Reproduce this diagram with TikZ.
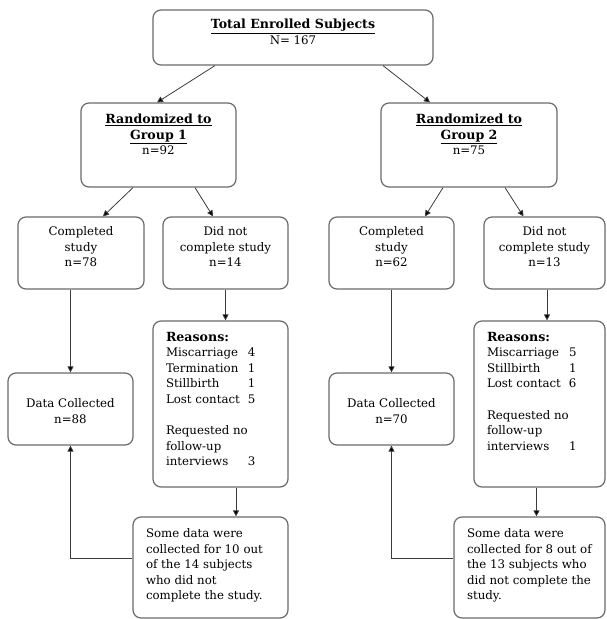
\documentclass[tikz,border=0pt]{standalone}
\usepackage{fontspec}
\setmainfont{DejaVu Serif}
\usetikzlibrary{arrows.meta,calc}

\definecolor{boxgray}{HTML}{6A6A6A}
\definecolor{arrowgray}{HTML}{3C3C3C}

\tikzset{
  flowbox/.style={draw=boxgray, line width=1.2pt, rounded corners=8pt, inner sep=0pt,
    font=\fontsize{11.8}{15.6}\selectfont},
  flowarrow/.style={draw=arrowgray, line width=0.8pt, -{Triangle[length=6pt,width=6pt,fill=black]}},
}
% width, height, top gap, text
\newcommand{\boxtext}[4]{\parbox[c][#2][t]{#1}{\vspace*{#3}\centering #4}}
\newcommand{\boxtextl}[4]{\parbox[c][#2][t]{#1}{\vspace*{#3}\raggedright\leftskip=13pt #4}}
\newcommand{\reason}[1]{\makebox[82pt][l]{#1}}
\newcommand{\headline}[1]{{\fontsize{12.6}{16.5}\selectfont\bfseries\underline{#1}}}

\begin{document}
\begin{tikzpicture}[x=1pt,y=-1pt]
            \useasboundingbox (0,0) rectangle (606,619);
            % top
            \node[flowbox] (total) at (293,37.5) {\boxtext{280pt}{55pt}{9pt}{\headline{Total Enrolled Subjects}\\N= 167}};
            % groups
            \node[flowbox] (grpone) at (158.5,145) {\boxtext{155pt}{84pt}{11pt}{\headline{Randomized to}\\\headline{Group 1}\\n=92}};
            \node[flowbox] (grptwo) at (469,145) {\boxtext{176pt}{84pt}{11pt}{\headline{Randomized to}\\\headline{Group 2}\\n=75}};
            % completed or not
            \node[flowbox] (compone) at (81,253) {\boxtext{126pt}{72pt}{9.5pt}{Completed\\study\\n=78}};
            \node[flowbox] (notone) at (225.5,253) {\boxtext{125pt}{72pt}{9.5pt}{Did not\\complete study\\n=14}};
            \node[flowbox] (comptwo) at (391.5,253) {\boxtext{125pt}{72pt}{9.5pt}{Completed\\study\\n=62}};
            \node[flowbox] (nottwo) at (544.5,253) {\boxtext{121pt}{72pt}{9.5pt}{Did not\\complete study\\n=13}};
            % data collected
            \node[flowbox] (dataone) at (70.5,409) {\boxtext{125pt}{72pt}{25.5pt}{Data Collected\\n=88}};
            \node[flowbox] (datatwo) at (391.5,409) {\boxtext{125pt}{72pt}{25.5pt}{Data Collected\\n=70}};
            % reasons
            \node[flowbox] (whyone) at (220.5,404) {\boxtextl{135pt}{166pt}{11pt}{{\fontsize{12.6}{15.6}\selectfont\bfseries Reasons:}\\
                \reason{Miscarriage}4\\\reason{Termination}1\\\reason{Stillbirth}1\\\reason{Lost contact}5\\[15.6pt]
                Requested no\\follow-up\\\reason{interviews}3}};
            \node[flowbox] (whytwo) at (539.5,404) {\boxtextl{131pt}{166pt}{11pt}{{\fontsize{12.6}{15.6}\selectfont\bfseries Reasons:}\\
                \reason{Miscarriage}5\\\reason{Stillbirth}1\\\reason{Lost contact}6\\[15.6pt]
                Requested no\\follow-up\\\reason{interviews}1}};
            % some data
            \node[flowbox] (someone) at (210.5,567.5) {\boxtextl{155pt}{101pt}{11.5pt}{Some data were\\collected for 10 out\\of the 14 subjects\\who did not\\complete the study.}};
            \node[flowbox] (sometwo) at (529.5,567.5) {\boxtextl{151pt}{101pt}{11.5pt}{Some data were\\collected for 8 out of\\the 13 subjects who\\did not complete the\\study.}};
            % arrows
            \draw[flowarrow] ([xshift=-78pt]total.south) -- ([xshift=-1.5pt]grpone.north);
            \draw[flowarrow] ([xshift=90pt]total.south) -- ([xshift=-39pt]grptwo.north);
            \draw[flowarrow] ([xshift=-25.5pt]grpone.south) -- ([xshift=22pt]compone.north);
            \draw[flowarrow] ([xshift=36.5pt]grpone.south) -- ([xshift=-12.5pt]notone.north);
            \draw[flowarrow] ([xshift=-26pt]grptwo.south) -- ([xshift=33.5pt]comptwo.north);
            \draw[flowarrow] ([xshift=36pt]grptwo.south) -- ([xshift=-21pt]nottwo.north);
            \draw[flowarrow] (compone.south -| dataone.north) -- (dataone.north);
            \draw[flowarrow] (notone.south) -- (notone.south |- whyone.north);
            \draw[flowarrow] ([xshift=15.5pt]whyone.south) -- ([xshift=15.5pt]whyone.south |- someone.north);
            \draw[flowarrow] ([yshift=9.5pt]someone.west) -| (dataone.south);
            \draw[flowarrow] (comptwo.south) -- (datatwo.north);
            \draw[flowarrow] ([xshift=2.5pt]nottwo.south) -- ([xshift=2.5pt]nottwo.south |- whytwo.north);
            \draw[flowarrow] ([xshift=-3pt]whytwo.south) -- ([xshift=-3pt]whytwo.south |- sometwo.north);
            \draw[flowarrow] ([yshift=9.5pt]sometwo.west) -| (datatwo.south);
\end{tikzpicture}
\end{document}
